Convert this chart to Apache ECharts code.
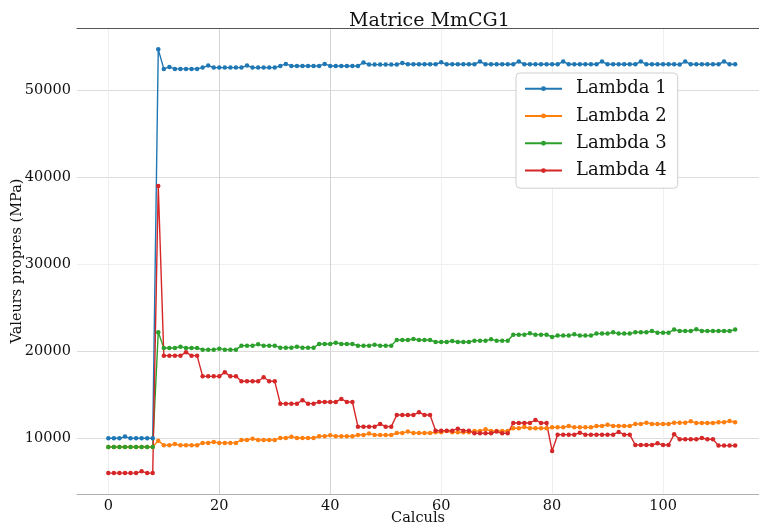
<!DOCTYPE html>
<html>
<head>
<meta charset="utf-8">
<script src="https://cdn.jsdelivr.net/npm/echarts@6/dist/echarts.min.js"></script>
<style>
  html, body { margin: 0; padding: 0; background: #fff; }
  #main { width: 759px; height: 525px; }
</style>
</head>
<body>
<div id="main"></div>
<script>
var xTicks = [0, 20, 40, 60, 80, 100];
var yTicks = [10000, 20000, 30000, 40000, 50000];
var seriesNames = ['Lambda 1', 'Lambda 2', 'Lambda 3', 'Lambda 4'];

var lambda1 = [
  10000,10000,10000,10200,10000,10000,10000,10000,10000,
  54700,
  52450,52680,52450,52450,52450,52450,52450,
  52600,52830,52600,52600,52600,52600,52600,52600,
  52830,52600,52600,52600,52600,52600,
  52790,53020,52790,52790,52790,52790,52790,52790,
  53020,52790,52790,52790,52790,52790,52790,
  53175,52945,52945,52945,52945,52945,52945,
  53140,52985,52985,52985,52985,52985,52985,
  53210,52985,52985,52985,52985,52985,52985,
  53290,52985,52985,52985,52985,52985,52985,
  53290,52985,52985,52985,52985,52985,52985,52985,
  53290,52985,52985,52985,52985,52985,52985,
  53290,52985,52985,52985,52985,52985,52985,
  53290,52985,52985,52985,52985,52985,52985,52945,
  53290,52985,52985,52985,52985,52985,52985,
  53290,52985,52985
];
var lambda2 = [
  9000,9000,9000,9000,9000,9000,9000,9000,9000,
  9730,
  9200,9200,9350,9200,9200,9200,9200,
  9470,9470,9580,9470,9470,9470,9470,
  9810,9810,9960,9810,9810,9810,9810,
  10040,10040,10190,10040,10040,10040,10040,
  10230,10230,10345,10230,10230,10230,10230,
  10380,10380,10540,10380,10380,10380,10380,
  10610,10610,10770,10610,10610,10610,10610,
  10690,10690,10840,10690,10690,10690,10690,
  10840,10840,11030,10840,10840,10840,10840,
  11150,11150,11300,11150,11150,11150,11150,
  11260,11260,11260,11420,11260,11260,11260,11260,
  11420,11420,11570,11420,11420,11420,11420,
  11650,11650,11800,11650,11650,11650,11650,
  11800,11800,11800,11950,11760,11760,11760,11760,
  11840,11840,11990,11840
];
var lambda3 = [
  9000,9000,9000,9000,9000,9000,9000,9000,9000,
  22200,
  20380,20380,20380,20530,20380,20380,20380,
  20190,20190,20190,20300,20190,20190,20190,
  20645,20645,20645,20800,20645,20645,20645,
  20420,20420,20420,20530,20420,20420,20420,
  20840,20840,20840,20990,20840,20840,20840,
  20650,20650,20650,20760,20650,20650,20650,
  21300,21300,21300,21410,21300,21300,21300,
  21070,21070,21070,21180,21070,21070,21070,
  21220,21220,21220,21375,21220,21220,21220,
  21910,21910,21910,22065,21910,21910,21910,
  21640,
  21800,21800,21800,21950,21800,21800,21800,
  22030,22030,22030,22180,22030,22030,22030,
  22180,22180,22180,22330,22140,22140,22140,
  22490,22330,22330,22330,
  22520,22330,22330,22330,22330,22330,22330,
  22490
];
var lambda4 = [
  6000,6000,6000,6000,6000,6000,6200,6000,6000,
  39000,
  19500,19500,19500,19500,19880,19500,19500,
  17120,17120,17120,17120,17580,17120,17120,
  16550,16550,16550,16550,17010,16550,16550,
  13980,13980,13980,13980,14370,13980,13980,
  14175,14175,14175,14175,14520,14175,14175,
  11340,11340,11340,11340,11650,11340,11340,
  12680,12680,12680,12680,12990,12680,12680,
  10880,10880,10880,10880,11110,10880,10880,
  10580,10580,10580,10580,10770,10580,10580,
  11760,11760,11760,11760,12110,11760,11760,
  8550,
  10420,10420,10420,10420,10650,10420,10420,10420,10420,10420,10420,10730,10420,10420,
  9230,9230,9230,9230,9420,9230,9230,
  10460,
  9890,9890,9890,9890,10040,9890,9890,
  9160,9160,9160,9160
];

var colors = ['#1f77b4', '#ff7f0e', '#2ca02c', '#d62728'];
var font = 'DejaVu Serif';

function pairs(arr) {
  return arr.map(function (v, i) { return [i, v]; });
}

var chart = echarts.init(document.getElementById('main'));

var allData = [lambda1, lambda2, lambda3, lambda4];
var series = allData.map(function (d, k) {
  return {
    name: seriesNames[k],
    type: 'line',
    data: pairs(d),
    symbol: 'circle',
    symbolSize: 4.5,
    showAllSymbol: true,
    lineStyle: { width: 1.4, color: colors[k] },
    itemStyle: { color: colors[k] }
  };
});

var option = {
  animation: false,
  color: colors,
  title: {
    text: 'Matrice MmCG1',
    left: 344,
    top: 7,
    textStyle: { fontFamily: font, fontSize: 19, fontWeight: 'normal', color: '#111' }
  },
  legend: {
    orient: 'vertical',
    left: 516,
    top: 73,
    padding: [2, 11, 4, 8],
    itemWidth: 37,
    itemHeight: 6,
    itemGap: 0,
    backgroundColor: '#fff',
    borderColor: '#cfcfcf',
    borderWidth: 1,
    borderRadius: 4,
    textStyle: { fontFamily: font, fontSize: 18, color: '#111', lineHeight: 27.3, padding: [0, 0, 0, 9] },
    data: seriesNames
  },
  grid: { left: 77, right: 0, top: 28, bottom: 31, outerBoundsMode: 'none', containLabel: false },
  xAxis: [{
    type: 'value',
    min: -5.65,
    max: 117.3,
    name: 'Calculs',
    nameLocation: 'middle',
    nameGap: 17,
    nameMoveOverlap: false,
    nameTextStyle: { fontFamily: font, fontSize: 14.5, color: '#111' },
    axisLine: { show: true, lineStyle: { color: '#b0b0b0', width: 1 } },
    axisTick: { show: false, customValues: xTicks },
    axisLabel: { customValues: xTicks, margin: 5, fontFamily: font, fontSize: 14.5, color: '#111' },
    splitLine: { show: true, lineStyle: { color: ['#f0f0f0', '#d4d4d4', '#d4d4d4', '#f0f0f0', '#eeeeee', '#f0f0f0'], width: 1 } }
  }, {
    type: 'value',
    position: 'top',
    min: -5.65,
    max: 117.3,
    axisLine: { show: true, onZero: false, lineStyle: { color: '#555', width: 1.2 } },
    axisTick: { show: false },
    axisLabel: { show: false },
    splitLine: { show: false }
  }],
  yAxis: {
    type: 'value',
    min: 3600,
    max: 57150,
    name: 'Valeurs propres (MPa)',
    nameLocation: 'middle',
    nameGap: 52,
    nameMoveOverlap: false,
    nameTextStyle: { fontFamily: font, fontSize: 14.5, color: '#111' },
    axisLine: { show: true, lineStyle: { color: '#eeeeee' } },
    axisTick: { show: false, customValues: yTicks },
    axisLabel: {
      customValues: yTicks, margin: 6, fontFamily: font, fontSize: 14.5, color: '#111',
      formatter: function (v) { return String(v); }
    },
    splitLine: { show: true, lineStyle: { color: ['#dcdcdc', '#dcdcdc', '#f0f0f0', '#dcdcdc', '#dcdcdc'], width: 1 } }
  },
  series: series
};

chart.setOption(option);
</script>
</body>
</html>
